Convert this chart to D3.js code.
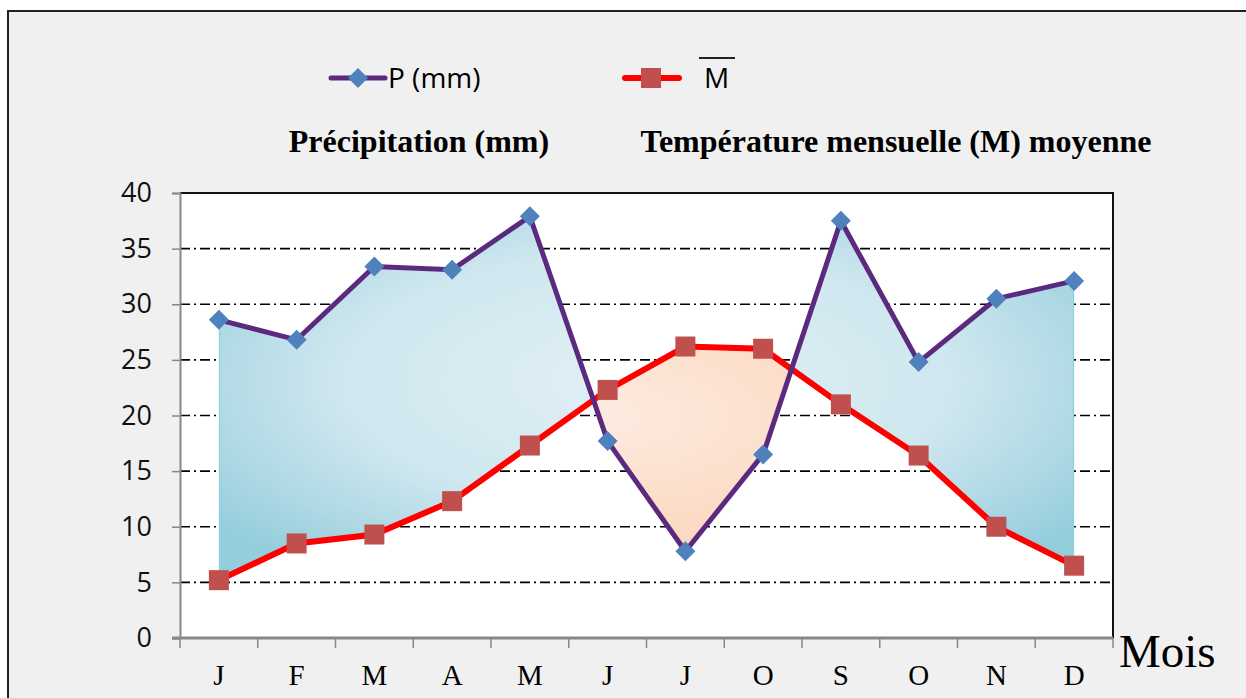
<!DOCTYPE html>
<html>
<head>
<meta charset="utf-8">
<title>Diagramme ombrothermique</title>
<script src="https://d3js.org/d3.v7.min.js"></script>
<style>
  body { margin: 0; background: #fff; }
</style>
</head>
<body>
<div id="chart"></div>
<script>
// month labels (as written on the original chart)
var months = ["J","F","M","A","M","J","J","O","S","O","N","D"];
// precipitation P (mm)
var precip = [28.6, 26.8, 33.4, 33.1, 37.9, 17.7, 7.8, 16.5, 37.5, 24.8, 30.5, 32.1];
// mean monthly temperature M
var temp = [5.2, 8.5, 9.3, 12.3, 17.3, 22.3, 26.2, 26.0, 21.0, 16.4, 10.0, 6.5];
var yTicks = [0, 5, 10, 15, 20, 25, 30, 35, 40];

var W = 1246, H = 698;
var svg = d3.select("#chart").append("svg").attr("width", W).attr("height", H);
var serif = "'Liberation Serif', 'Times New Roman', serif";
var sans = "'Open Sans', sans-serif";

// outer frame
svg.append("rect").attr("x", 8).attr("y", 11).attr("width", 1260).attr("height", 720)
  .attr("fill", "#f0f0f0").attr("stroke", "#222").attr("stroke-width", 2);

var margin = {top: 193, left: 180},
    width = 1113 - 180,
    height = 638 - 193;

var idx = d3.range(months.length);
var x = d3.scaleBand().domain(idx).range([0, width]);
var y = d3.scaleLinear().domain([0, 40]).range([height, 0]);
var cx = function(i) { return x(i) + x.bandwidth() / 2; };

var g = svg.append("g").attr("transform", "translate(" + margin.left + "," + margin.top + ")");

// plot area
g.append("rect").attr("width", width).attr("height", height).attr("fill", "#fff");

// gridlines (dash-dot)
g.selectAll(".grid").data(yTicks.filter(function(d) { return d > 0 && d < 40; }))
  .enter().append("line")
  .attr("x1", 0).attr("x2", width)
  .attr("y1", function(d) { return y(d); }).attr("y2", function(d) { return y(d); })
  .attr("stroke", "#000").attr("stroke-width", 1.6)
  .attr("stroke-dasharray", "10,4,2,4");

// top + right border
g.append("path").attr("d", "M0," + y(40) + "H" + width + "V" + height)
  .attr("fill", "none").attr("stroke", "#111").attr("stroke-width", 2);

// gradients for the shaded zones
var defs = svg.append("defs");
var gb = defs.append("radialGradient").attr("id", "blueGrad").attr("cx", "50%").attr("cy", "45%").attr("r", "65%");
gb.append("stop").attr("offset", "0%").attr("stop-color", "#e2f0f5");
gb.append("stop").attr("offset", "55%").attr("stop-color", "#cfe7ef");
gb.append("stop").attr("offset", "100%").attr("stop-color", "#94cddc");
var go = defs.append("radialGradient").attr("id", "orangeGrad").attr("cx", "45%").attr("cy", "55%").attr("r", "65%");
go.append("stop").attr("offset", "0%").attr("stop-color", "#fdebe0");
go.append("stop").attr("offset", "60%").attr("stop-color", "#fbd6bd");
go.append("stop").attr("offset", "100%").attr("stop-color", "#f8bd8e");

// clip zones: above the temperature curve (humid) and below it (dry)
var clipAbove = d3.area().x(function(d, i) { return cx(i); }).y0(0).y1(function(d) { return y(d); });
var clipBelow = d3.area().x(function(d, i) { return cx(i); }).y0(height).y1(function(d) { return y(d); });
defs.append("clipPath").attr("id", "humid").append("path").attr("d", clipAbove(temp));
defs.append("clipPath").attr("id", "dry").append("path").attr("d", clipBelow(temp));

var between = d3.area()
  .x(function(d, i) { return cx(i); })
  .y0(function(d, i) { return y(temp[i]); })
  .y1(function(d) { return y(d); });

g.append("path").attr("clip-path", "url(#humid)")
  .attr("d", between(precip))
  .attr("fill", "url(#blueGrad)").attr("stroke", "#8fcfdf").attr("stroke-width", 2.5);
g.append("path").attr("clip-path", "url(#dry)")
  .attr("d", between(precip))
  .attr("fill", "url(#orangeGrad)").attr("stroke", "#f6b98a").attr("stroke-width", 2.5);

// axes
var yAxis = g.append("g").call(d3.axisLeft(y).tickValues(yTicks).tickSize(8).tickPadding(20));
yAxis.selectAll(".tick line").attr("stroke", "#888").attr("stroke-width", 1.5);
yAxis.select(".domain").attr("stroke", "#888").attr("stroke-width", 2);
yAxis.selectAll("text").attr("font-family", sans).attr("font-size", 27).attr("fill", "#111");

var xb = g.append("g").attr("transform", "translate(0," + height + ")");
xb.append("line").attr("x1", -8).attr("x2", width).attr("stroke", "#888").attr("stroke-width", 3);
xb.selectAll(".xt").data(d3.range(months.length + 1)).enter().append("line")
  .attr("x1", function(i) { return i * x.step(); }).attr("x2", function(i) { return i * x.step(); })
  .attr("y1", 0).attr("y2", 10).attr("stroke", "#888").attr("stroke-width", 1.5);
xb.selectAll(".xl").data(idx).enter().append("text")
  .attr("x", function(i) { return cx(i); }).attr("y", 47)
  .attr("text-anchor", "middle")
  .attr("font-family", serif).attr("font-size", 29)
  .text(function(i) { return months[i]; });
svg.append("text").attr("x", 1119).attr("y", 667)
  .attr("font-family", serif).attr("font-size", 47)
  .text("Mois");

// lines
var line = d3.line().x(function(d, i) { return cx(i); }).y(function(d) { return y(d); });
g.append("path").attr("d", line(temp)).attr("fill", "none").attr("stroke", "#ff0000").attr("stroke-width", 6);
g.append("path").attr("d", line(precip)).attr("fill", "none").attr("stroke", "#5b2a7e").attr("stroke-width", 5);

// markers
g.selectAll(".sq").data(temp).enter().append("rect")
  .attr("x", function(d, i) { return cx(i) - 10; }).attr("y", function(d) { return y(d) - 10; })
  .attr("width", 20).attr("height", 20).attr("fill", "#c0504d");
g.selectAll(".dm").data(precip).enter().append("path")
  .attr("transform", function(d, i) { return "translate(" + cx(i) + "," + y(d) + ")"; })
  .attr("d", "M0,-10L10,0L0,10L-10,0Z").attr("fill", "#4f81bd");

// legend
var lg = svg.append("g");
lg.append("line").attr("x1", 331).attr("x2", 385).attr("y1", 78).attr("y2", 78)
  .attr("stroke", "#5b2a7e").attr("stroke-width", 5).attr("stroke-linecap", "round");
lg.append("path").attr("transform", "translate(358,78)").attr("d", "M0,-10L10,0L0,10L-10,0Z").attr("fill", "#4f81bd");
lg.append("text").attr("x", 388).attr("y", 88).attr("font-family", sans).attr("font-size", 28).text("P (mm)");
lg.append("line").attr("x1", 625).attr("x2", 679).attr("y1", 78).attr("y2", 78)
  .attr("stroke", "#ff0000").attr("stroke-width", 6).attr("stroke-linecap", "round");
lg.append("rect").attr("x", 641).attr("y", 68).attr("width", 20).attr("height", 20).attr("fill", "#c0504d");
lg.append("text").attr("x", 704).attr("y", 88).attr("font-family", sans).attr("font-size", 28).text("M");
lg.append("line").attr("x1", 699).attr("x2", 735).attr("y1", 58).attr("y2", 58).attr("stroke", "#222").attr("stroke-width", 2);

// titles
svg.append("text").attr("x", 419).attr("y", 152).attr("text-anchor", "middle")
  .attr("font-family", serif).attr("font-weight", "bold").attr("font-size", 32)
  .text("Précipitation (mm)");
svg.append("text").attr("x", 896).attr("y", 152).attr("text-anchor", "middle")
  .attr("font-family", serif).attr("font-weight", "bold").attr("font-size", 32)
  .text("Température mensuelle (M) moyenne");
</script>
</body>
</html>
